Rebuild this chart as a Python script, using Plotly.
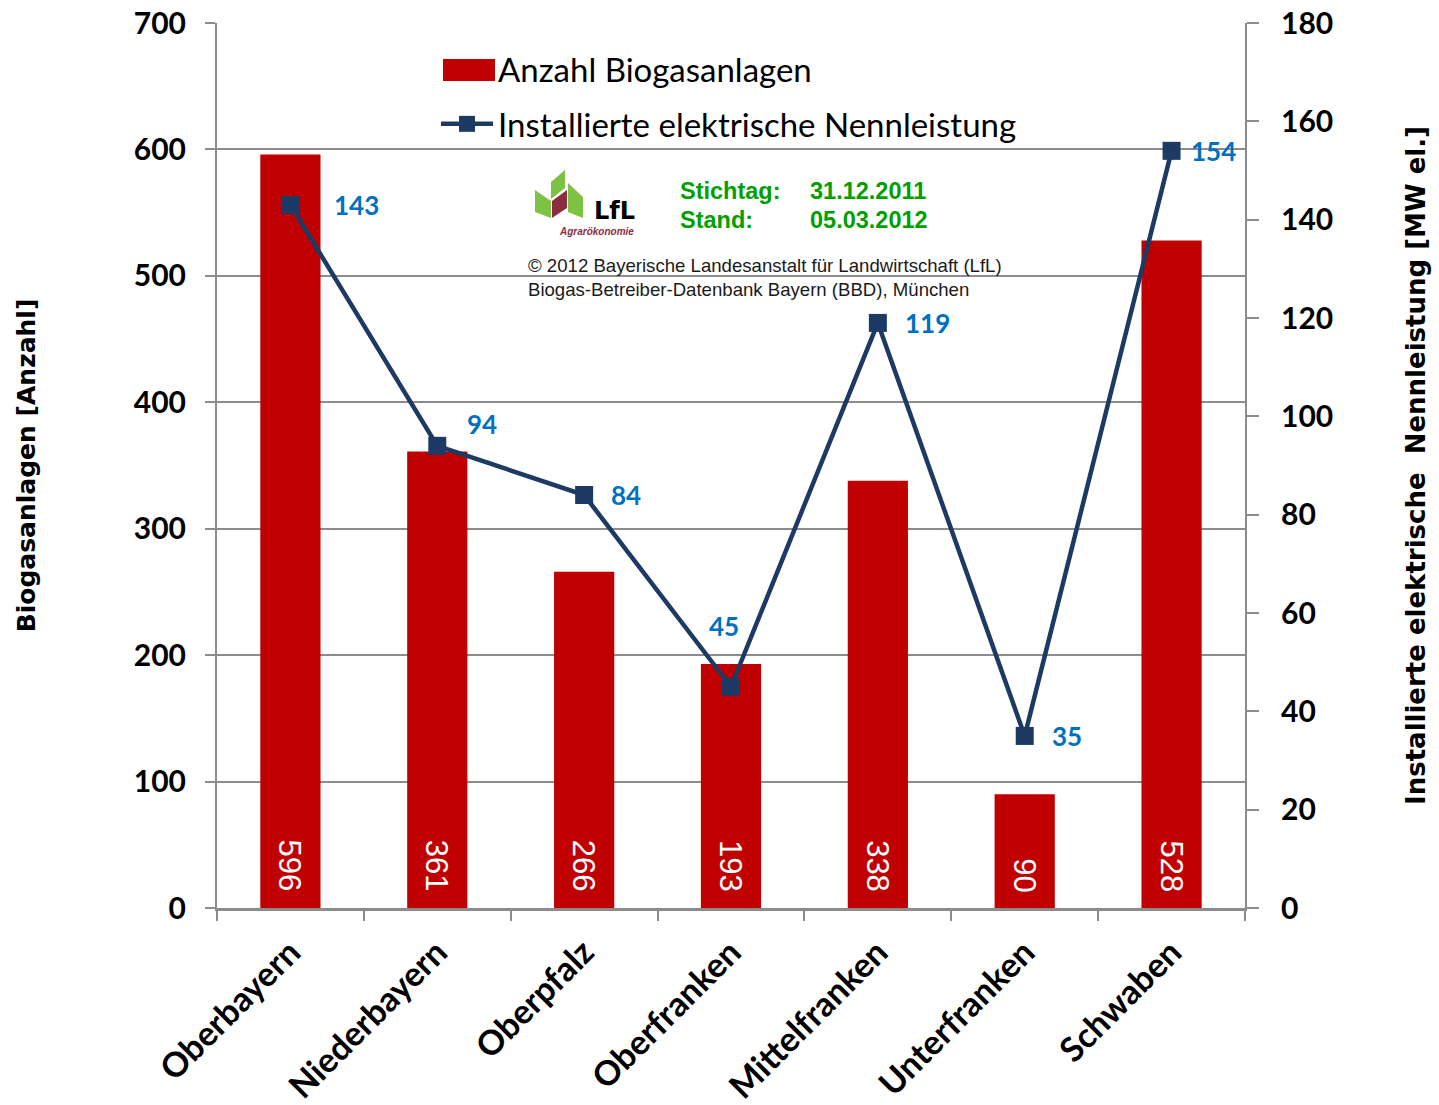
import plotly.graph_objects as go

# ---------------- data ----------------
regions = ["Oberbayern", "Niederbayern", "Oberpfalz", "Oberfranken",
           "Mittelfranken", "Unterfranken", "Schwaben"]
anlagen = [596, 361, 266, 193, 338, 90, 528]          # Anzahl Biogasanlagen
leistung = [143, 94, 84, 45, 119, 35, 154]            # MW el.

y_left_ticks = [0, 100, 200, 300, 400, 500, 600, 700]
y_right_ticks = [0, 20, 40, 60, 80, 100, 120, 140, 160, 180]

# label offsets (style only)
lab_dx = [42, 28, 25, -7, 25, 25, 17]
lab_dy = [0, 22, 0, 61, 0, 0, 0]

# ---------------- geometry helpers (pixel -> paper) ----------------
W, H = 1439, 1105
L, R, T, B = 217, 1245, 23, 908


def px(x):
    return (x - L) / (R - L)


def py(y):
    return (B - y) / (B - T)


def path(points):
    return "M " + " L ".join(f"{px(x):.5f},{py(y):.5f}" for x, y in points) + " Z"


BAR = "#C00000"
LINE = "#1C3A63"
BLUE = "#0070C0"
GRID = "#8C8C8C"
GREEN = "#00A000"
FONT = "Lato"
TFONT = "DejaVu Sans"

fig = go.Figure()

fig.add_trace(go.Bar(
    x=regions, y=anlagen, name="Anzahl Biogasanlagen",
    marker=dict(color=BAR, line=dict(width=0)),
    width=0.41,
    legendgroup="a",
    yaxis="y",
))

fig.add_trace(go.Scatter(
    x=regions, y=leistung, name="Installierte elektrische Nennleistung",
    mode="lines+markers",
    line=dict(color=LINE, width=4.5),
    marker=dict(symbol="square", size=18, color=LINE),
    legendgroup="b",
    yaxis="y2",
))

annotations = []
# bar value labels (white, rotated, near the base)
for r, v in zip(regions, anlagen):
    annotations.append(dict(
        x=r, y=0, xref="x", yref="y", text=str(v), showarrow=False,
        textangle=90, xanchor="center", yanchor="bottom", yshift=14,
        font=dict(family="Liberation Sans", size=31, color="white"),
    ))

# line value labels
for r, v, dx, dy in zip(regions, leistung, lab_dx, lab_dy):
    annotations.append(dict(
        x=r, y=v, xref="x", yref="y2", text=f"<b>{v}</b>", showarrow=False,
        xanchor="left" if dx > 0 else "center", yanchor="middle",
        xshift=dx, yshift=dy,
        font=dict(family=FONT, size=26, color=BLUE),
    ))

# Stichtag block
for txt, x, y in [("Stichtag:", 678, 191), ("31.12.2011", 808, 191),
                  ("Stand:", 678, 220), ("05.03.2012", 808, 220)]:
    annotations.append(dict(
        x=px(x), y=py(y), xref="paper", yref="paper", text=f"<b>{txt}</b>",
        showarrow=False, xanchor="left", yanchor="middle",
        font=dict(family="Liberation Sans", size=23.5, color=GREEN)))

# copyright
annotations.append(dict(
    x=px(526), y=py(277), xref="paper", yref="paper",
    text="© 2012 Bayerische Landesanstalt für Landwirtschaft (LfL)<br>"
         "Biogas-Betreiber-Datenbank Bayern (BBD), München",
    showarrow=False, xanchor="left", yanchor="middle", align="left",
    font=dict(family="Liberation Sans", size=18.6, color="#1A1A1A")))

# logo texts
annotations.append(dict(
    x=px(614), y=py(211), xref="paper", yref="paper", text="<b>LfL</b>",
    showarrow=False, xanchor="center", yanchor="middle",
    font=dict(family="DejaVu Sans", size=24, color="black")))
annotations.append(dict(
    x=px(596), y=py(231), xref="paper", yref="paper", text="<b><i>Agrarökonomie</i></b>",
    showarrow=False, xanchor="center", yanchor="middle",
    font=dict(family="Liberation Sans", size=10, color="#8A2D3F")))

shapes = [
    # white boxes hiding gridlines behind legend / notes
    dict(type="rect", xref="paper", yref="paper", x0=px(415), x1=px(1057),
         y0=py(160), y1=py(38), fillcolor="white", line=dict(width=0), layer="between"),
    dict(type="rect", xref="paper", yref="paper", x0=px(510), x1=px(1030),
         y0=py(302), y1=py(254), fillcolor="white", line=dict(width=0), layer="between"),
    # wide legend swatch for the bar series
    dict(type="rect", xref="paper", yref="paper", x0=px(443), x1=px(495),
         y0=py(81), y1=py(59), fillcolor=BAR, line=dict(width=0), layer="above"),
    # logo leaves
    dict(type="path", xref="paper", yref="paper",
         path=path([(535, 190), (551, 201), (551, 218), (535, 212)]),
         fillcolor="#7DC242", line=dict(width=0), layer="above"),
    dict(type="path", xref="paper", yref="paper",
         path=path([(551, 182), (565, 170), (565, 188), (551, 199)]),
         fillcolor="#7DC242", line=dict(width=0), layer="above"),
    dict(type="path", xref="paper", yref="paper",
         path=path([(552, 201), (567, 190), (567, 208), (552, 218)]),
         fillcolor="#8A2D3F", line=dict(width=0), layer="above"),
    dict(type="path", xref="paper", yref="paper",
         path=path([(568, 183), (583, 197), (583, 218), (568, 212)]),
         fillcolor="#7DC242", line=dict(width=0), layer="above"),
]

fig.update_layout(
    width=W, height=H,
    margin=dict(l=L, r=W - R, t=T, b=H - B, autoexpand=False),
    paper_bgcolor="white", plot_bgcolor="white",
    font=dict(family=FONT, color="black"),
    bargap=0.59,
    showlegend=True,
    legend=dict(
        x=px(436), y=py(41), xanchor="left", yanchor="top",
        font=dict(family=FONT, size=33, color="black"),
        bgcolor="rgba(0,0,0,0)", itemwidth=52,
        traceorder="grouped", tracegroupgap=9,
    ),
    xaxis=dict(
        type="category", categoryorder="array", categoryarray=regions,
        tickson="boundaries", ticks="outside", ticklen=10, tickwidth=2,
        tickcolor=GRID, showline=True, linecolor=GRID, linewidth=2.5,
        showgrid=False, tickangle=-45, ticklabelstandoff=8,
        tickfont=dict(family=FONT, size=34, color="black", weight="bold"),
        automargin=False,
    ),
    yaxis=dict(
        range=[0, 700], tickvals=y_left_ticks, ticks="outside", ticklen=10,
        tickwidth=2, tickcolor=GRID, showline=True, linecolor=GRID, linewidth=2,
        showgrid=True, gridcolor=GRID, gridwidth=2, zeroline=False,
        tickfont=dict(family=FONT, size=30, color="black", weight="bold"),
        ticklabelstandoff=13,
        title=dict(text="Biogasanlagen\u00a0[Anzahl]", standoff=91,
                   font=dict(family=TFONT, size=25, color="black", weight="bold")),
        automargin=False,
    ),
    yaxis2=dict(
        range=[0, 180], tickvals=y_right_ticks, overlaying="y", side="right",
        ticks="outside", ticklen=12, tickwidth=2, tickcolor=GRID,
        showline=True, linecolor=GRID, linewidth=2, showgrid=False, zeroline=False,
        tickfont=dict(family=FONT, size=30, color="black", weight="bold"),
        ticklabelstandoff=16,
        title=dict(text="\u00a0\u00a0Installierte elektrische\u00a0\u00a0Nennleistung [MW el.]",
                   standoff=75,
                   font=dict(family=TFONT, size=26, color="black", weight="bold")),
        automargin=False,
    ),
    annotations=annotations,
    shapes=shapes,
)

fig.write_html("out.html", config={"displayModeBar": False},
               post_script="document.body.style.margin='0';")
